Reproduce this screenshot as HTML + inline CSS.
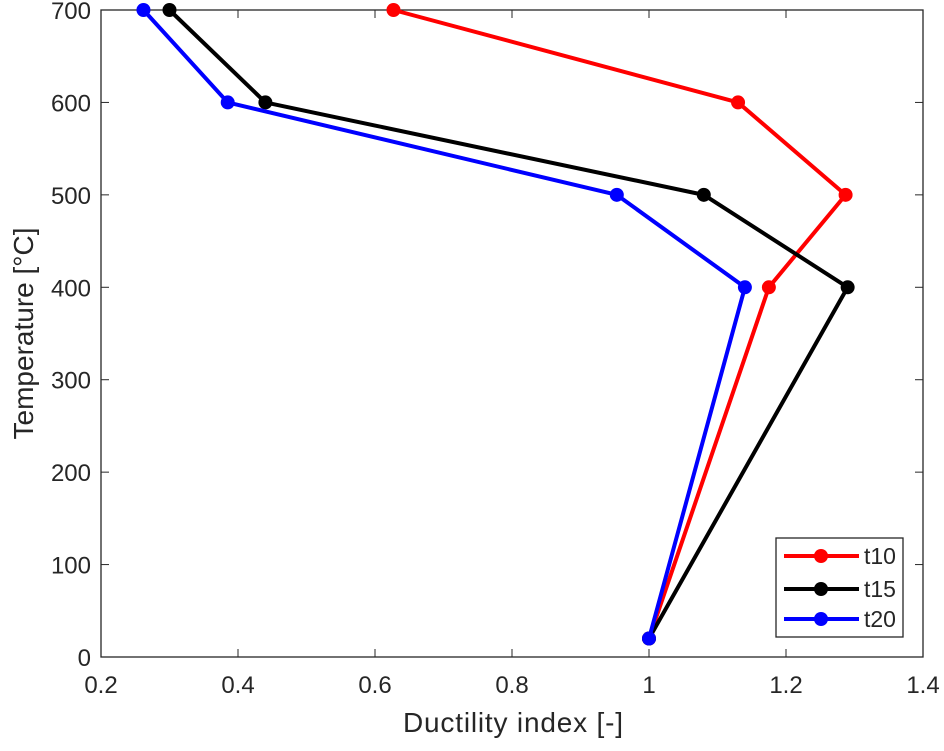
<!DOCTYPE html>
<html><head><meta charset="utf-8"><style>
body{margin:0;background:#fff;}
svg text{font-family:"Liberation Sans",sans-serif;fill:#262626;}
</style></head><body>
<svg id="chart" width="944" height="746" xmlns="http://www.w3.org/2000/svg">
<g id="grid"></g>
<g id="series"></g>
<g id="legend"></g>
</svg>
<script>
const xTicks=[0.2,0.4,0.6,0.8,1,1.2,1.4];
const yTicks=[0,100,200,300,400,500,600,700];
const seriesNames=['t10','t15','t20'];
const seriesColors=['#ff0000','#000000','#0000ff'];
const temps=[700,600,500,400,20];
const t10=[0.627,1.13,1.287,1.175,1.0];
const t15=[0.30,0.44,1.08,1.29,1.0];
const t20=[0.262,0.385,0.953,1.14,1.0];
const L=101,R=923,T=10,B=657;
const xs=v=>L+(v-0.2)/1.2*(R-L);
const ys=v=>B-v/700*(B-T);
const NS='http://www.w3.org/2000/svg';
function mk(tag,attrs,parent,text){const e=document.createElementNS(NS,tag);for(const k in attrs)e.setAttribute(k,attrs[k]);if(text!==undefined)e.textContent=text;parent.appendChild(e);return e;}
const g=document.getElementById('grid');
const box=mk('rect',{x:L,y:T,width:R-L,height:B-T,fill:'#fff',stroke:'#262626','stroke-width':1.3},g);


xTicks.forEach(v=>{const x=xs(v);
mk('line',{x1:x,x2:x,y1:B,y2:B-8,stroke:'#262626'},g);
mk('line',{x1:x,x2:x,y1:T,y2:T+8,stroke:'#262626'},g);
const t=mk('text',{x:x,y:B+36,'text-anchor':'middle','font-size':24},g,String(v));

});
yTicks.forEach(v=>{const y=ys(v);
mk('line',{x1:L,x2:L+8,y1:y,y2:y,stroke:'#262626'},g);
mk('line',{x1:R,x2:R-8,y1:y,y2:y,stroke:'#262626'},g);
const t=mk('text',{x:L-10,y:y+9,'text-anchor':'end','font-size':24},g,String(v));

});
const xt=mk('text',{x:513,y:732,'text-anchor':'middle','font-size':28,textLength:220},g,'Ductility index [-]');


const yt=mk('text',{x:0,y:0,'text-anchor':'middle','font-size':28,transform:`translate(33,${(T+B)/2}) rotate(-90)`},g,'Temperature [°C]');


const sg=document.getElementById('series');
[t10,t15,t20].forEach((vals,i)=>{
const pts=vals.map((v,j)=>xs(v)+','+ys(temps[j])).join(' ');
const pl=mk('polyline',{points:pts,fill:'none',stroke:seriesColors[i],'stroke-width':4,'stroke-linejoin':'round'},sg);


vals.forEach((v,j)=>{const c=mk('circle',{cx:xs(v),cy:ys(temps[j]),r:7,fill:seriesColors[i]},sg);

});
});
const lg=document.getElementById('legend');


mk('rect',{x:776,y:538,width:127,height:99,fill:'#fff',stroke:'#262626','stroke-width':1.3},lg);
const ly=[556,589,619];
seriesNames.forEach((n,i)=>{
const e=mk('g',{},lg);


mk('line',{x1:784,x2:859,y1:ly[i],y2:ly[i],stroke:seriesColors[i],'stroke-width':4},e);
mk('circle',{cx:821,cy:ly[i],r:7,fill:seriesColors[i]},e);
mk('text',{x:864,y:ly[i]+8,'font-size':23},e,n);
});
</script>
</body></html>
